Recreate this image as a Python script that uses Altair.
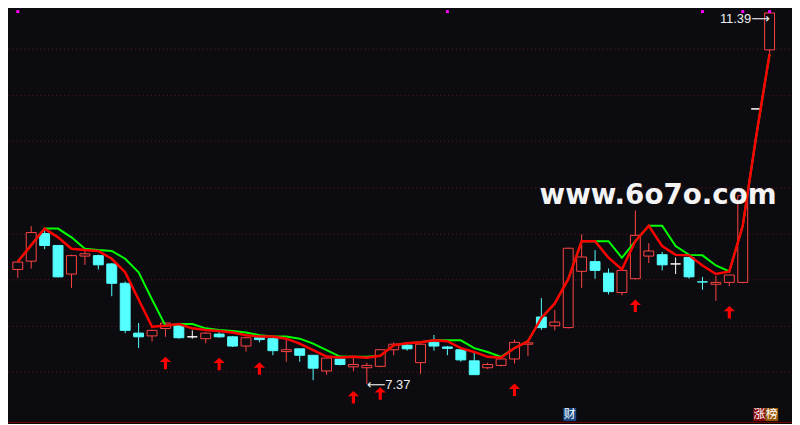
import pandas as pd
import altair as alt

# daily candles (57 sessions)
OPEN = [8.61, 8.70, 9.00, 8.87, 8.56, 8.755, 8.76, 8.67, 8.46, 7.92,
        7.89, 7.97, 8.01, 7.88, 7.86, 7.91, 7.88, 7.78, 7.87, 7.86,
        7.72, 7.75, 7.68, 7.51, 7.64, 7.555, 7.545, 7.56, 7.74, 7.79,
        7.60, 7.82, 7.77, 7.74, 7.62, 7.545, 7.57, 7.64, 7.80, 8.095,
        8.00, 7.98, 8.59, 8.695, 8.57, 8.36, 8.51, 8.755, 8.77, 8.67,
        8.74, 8.476, 8.45, 8.47, 8.47, 10.35, 10.99]
HIGH = [8.70, 9.08, 9.03, 8.875, 8.77, 8.82, 8.77, 8.68, 8.48, 8.03,
        7.96, 8.03, 8.02, 7.95, 7.93, 7.93, 7.89, 7.88, 7.88, 7.87,
        7.86, 7.75, 7.68, 7.65, 7.64, 7.67, 7.60, 7.74, 7.82, 7.80,
        7.81, 7.90, 7.78, 7.74, 7.72, 7.60, 7.645, 7.85, 7.82, 8.30,
        8.17, 8.845, 8.99, 8.82, 8.62, 8.60, 9.25, 8.895, 8.80, 8.74,
        8.74, 8.53, 8.54, 8.55, 9.41, 10.35, 11.39]
LOW = [8.52, 8.62, 8.83, 8.525, 8.41, 8.66, 8.61, 8.32, 7.92, 7.76,
       7.83, 7.88, 7.86, 7.86, 7.81, 7.87, 7.77, 7.72, 7.82, 7.68,
       7.61, 7.61, 7.41, 7.47, 7.57, 7.51, 7.37, 7.55, 7.68, 7.73,
       7.48, 7.73, 7.68, 7.61, 7.47, 7.53, 7.56, 7.59, 7.67, 7.955,
       7.95, 7.97, 8.41, 8.51, 8.34, 8.33, 8.50, 8.68, 8.60, 8.56,
       8.51, 8.39, 8.27, 8.43, 8.46, 10.35, 10.95]
CLOSE = [8.69, 9.01, 8.87, 8.53, 8.76, 8.78, 8.66, 8.46, 7.95, 7.88,
         7.95, 8.03, 7.87, 7.88, 7.92, 7.88, 7.78, 7.87, 7.85, 7.73,
         7.74, 7.68, 7.54, 7.65, 7.58, 7.58, 7.57, 7.74, 7.80, 7.75,
         7.80, 7.78, 7.755, 7.63, 7.47, 7.58, 7.64, 7.82, 7.815, 7.98,
         8.04, 8.84, 8.745, 8.60, 8.37, 8.60, 8.98, 8.81, 8.66, 8.67,
         8.53, 8.474, 8.47, 8.55, 9.41, 10.35, 11.39]

# red (fast) and green (slow) indicator lines
FAST = [8.695, 8.874, 9.053, 8.958, 8.835, 8.82, 8.81, 8.726, 8.579, 8.284,
        7.99, 8.0, 8.018, 7.972, 7.955, 7.944, 7.926, 7.898, 7.884, 7.884,
        7.860, 7.807, 7.737, 7.666, 7.656, 7.663, 7.653, 7.674, 7.789, 7.811,
        7.821, 7.842, 7.832, 7.758, 7.716, 7.663, 7.653, 7.758, 7.832, 8.084,
        8.242, 8.505, 8.916, 8.916, 8.737, 8.611, 8.916, 9.084, 8.863, 8.768,
        8.763, 8.653, 8.561, 8.589, 9.084, 10.053, 10.947]
SLOW = [8.695, 8.874, 9.053, 9.053, 8.958, 8.835, 8.82, 8.81, 8.726, 8.579,
        8.284, 8.0, 8.018, 8.018, 7.972, 7.955, 7.944, 7.926, 7.898, 7.884,
        7.884, 7.860, 7.807, 7.737, 7.666, 7.663, 7.663, 7.674, 7.789, 7.811,
        7.821, 7.842, 7.842, 7.842, 7.758, 7.716, 7.663, 7.758, 7.832, 8.084,
        8.242, 8.505, 8.916, 8.916, 8.916, 8.737, 8.916, 9.084, 9.084, 8.863,
        8.768, 8.763, 8.653, 8.589, 9.084, 10.053, 10.947]

BUY_DAYS = [12, 16, 19, 26, 28, 38, 47, 54]
TOP_DAYS = [1, 33, 52, 55, 57]
GRID_LEVELS = [7.5, 8.0, 8.5, 9.0, 9.5, 10.0, 10.5, 11.0]

BG = "#0c0c10"

df = pd.DataFrame({"day": range(1, len(OPEN) + 1), "open": OPEN, "high": HIGH,
                   "low": LOW, "close": CLOSE, "fast": FAST, "slow": SLOW})
df["kind"] = ["up" if c > o else ("down" if c < o else "flat")
              for o, c in zip(df["open"], df["close"])]

xs = alt.Scale(domain=[0.64, 58.3], nice=False, zero=False)
ys = alt.Scale(domain=[6.958, 11.421], nice=False, zero=False)
x_enc = alt.X("day:Q", scale=xs, title=None,
              axis=alt.Axis(labels=False, ticks=False, grid=False, domain=True,
                            domainColor="#7a0000", domainWidth=1))
kinds = alt.Scale(domain=["up", "down", "flat"], range=["#ff4444", "#54ffff", "#ffffff"])
fills = alt.Scale(domain=["up", "down", "flat"], range=[BG, "#54ffff", "#ffffff"])

base = alt.Chart(df)

wick = base.mark_rule(strokeWidth=1).encode(
    x=x_enc,
    y=alt.Y("low:Q", scale=ys, title=None,
            axis=alt.Axis(values=GRID_LEVELS, labels=False, ticks=False, domain=False,
                          grid=True, gridColor="#661a22", gridDash=[1, 3], gridWidth=1)),
    y2="high:Q",
    color=alt.Color("kind:N", scale=kinds, legend=None),
)

body = base.mark_bar(size=10, strokeWidth=1).encode(
    x=x_enc,
    y=alt.Y("open:Q", scale=ys),
    y2="close:Q",
    fill=alt.Fill("kind:N", scale=fills, legend=None),
    stroke=alt.Stroke("kind:N", scale=kinds, legend=None),
)

slow_line = base.mark_line(color="#00ff00", strokeWidth=2).encode(
    x=x_enc, y=alt.Y("slow:Q", scale=ys))
fast_line = base.mark_line(color="#ff0000", strokeWidth=2.5).encode(
    x=x_enc, y=alt.Y("fast:Q", scale=ys))

arrow_path = "M0,-1L0.9,-0.15L0.25,-0.15L0.25,1L-0.25,1L-0.25,-0.15L-0.9,-0.15Z"
buys = base.transform_filter(
    alt.FieldOneOfPredicate(field="day", oneOf=BUY_DAYS)
).mark_point(shape=arrow_path, size=160, filled=True, color="#ff0000", opacity=1).encode(
    x=x_enc, y=alt.Y("low:Q", scale=ys), yOffset=alt.value(26.5))

tops = base.transform_filter(
    alt.FieldOneOfPredicate(field="day", oneOf=TOP_DAYS)
).mark_square(size=9, color="#ff00ff", opacity=1).encode(
    x=x_enc, y=alt.value(1.5))

hi = df.loc[df["high"].idxmax()]
lo = df.loc[df["low"].idxmin()]
marks = pd.DataFrame({
    "day": [hi["day"], lo["day"]],
    "price": [hi["high"], lo["low"]],
    "label": [f"{hi['high']:.2f}\u27f6", f"\u27f5{lo['low']:.2f}"],
    "side": ["right", "left"],
})
label_font = "Liberation Sans, DejaVu Sans"
hi_lab = alt.Chart(marks[marks.side == "right"]).mark_text(
    align="right", baseline="middle", dy=6, fontSize=13, font=label_font, color="#f0f0f0"
).encode(x=x_enc, y=alt.Y("price:Q", scale=ys), text="label:N")
lo_lab = alt.Chart(marks[marks.side == "left"]).mark_text(
    align="left", baseline="middle", dy=1, fontSize=13, font=label_font, color="#f0f0f0"
).encode(x=x_enc, y=alt.Y("price:Q", scale=ys), text="label:N")

one = alt.Data(values=[{}])
watermark = alt.Chart(one).mark_text(
    text="www.6o7o.com", align="left", baseline="alphabetic", fontSize=28,
    font="DejaVu Sans", fontWeight="bold", color="#f4f4f4"
).encode(x=alt.value(537), y=alt.value(196))


def tag(txt, x0, x1, bg):
    box = alt.Chart(one).mark_rect(color=bg).encode(
        x=alt.value(x0), x2=alt.value(x1), y=alt.value(402), y2=alt.value(415))
    t = alt.Chart(one).mark_text(
        text=txt, align="center", baseline="middle", fontSize=12,
        font="Noto Sans CJK SC", color="#ffffff"
    ).encode(x=alt.value((x0 + x1) / 2), y=alt.value(408.5))
    return box + t


chart = alt.layer(
    wick, body, slow_line, fast_line, buys, tops, hi_lab, lo_lab, watermark,
    tag("财", 561, 574, "#1b4b87"), tag("涨", 753, 765, "#8c0a0a"), tag("榜", 765, 778, "#9c5a0c"),
).properties(
    width=792, height=416, padding=0, background=BG,
).configure_view(stroke=None)

chart.save("out.html", embed_options={"renderer": "svg", "actions": False})
